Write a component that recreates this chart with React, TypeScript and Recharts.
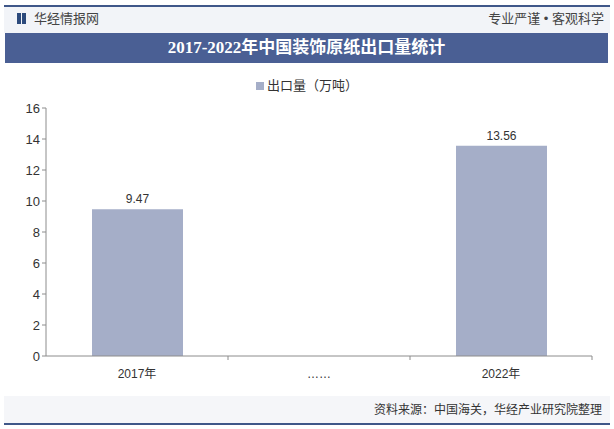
import { BarChart, Bar, XAxis, YAxis, LabelList } from 'recharts';

// chart data
const categories = ['2017年', '……', '2022年'];
const exportVolume: (number | null)[] = [9.47, null, 13.56];
const yTicks = [0, 2, 4, 6, 8, 10, 12, 14, 16];

const seriesName = '出口量（万吨）';
const title = '2017-2022年中国装饰原纸出口量统计';

const colors = {
  line: '#3f5789',
  band: '#4a5f94',
  header: '#f2f4f8',
  bar: '#a5aec8',
  axis: '#8c8c8c',
  text: '#333333',
};

const chartData = categories.map((name, i) => ({ name, value: exportVolume[i] }));

const W = 614;
const H = 429;
const margin = { top: 108, right: 22, bottom: 43, left: 16 };
const yAxisWidth = 30;

// category ticks sit on band edges, like the original
const CategoryTick = (props: any) => {
  const { x, y, payload } = props;
  const band = (W - margin.left - margin.right - yAxisWidth) / categories.length;
  return (
    <g>
      <line x1={x + band / 2} y1={y - 8} x2={x + band / 2} y2={y - 4} stroke={colors.axis} />
      <text x={x} y={y + 14} textAnchor="middle" fill={colors.text} fontSize={12}>
        {payload.value}
      </text>
    </g>
  );
};

export default function App() {
  return (
    <div
      style={{
        position: 'absolute',
        left: 0,
        top: 0,
        width: W,
        height: H,
        background: '#fff',
        overflow: 'hidden',
        fontFamily: '"Liberation Sans", "Noto Sans CJK SC", sans-serif',
      }}
    >
      {/* header strip */}
      <div style={{ position: 'absolute', left: 4, top: 5, width: 606, height: 2, background: colors.line }} />
      <div style={{ position: 'absolute', left: 4, top: 7, width: 606, height: 26, background: colors.header }} />
      <div style={{ position: 'absolute', left: 17, top: 13, width: 4, height: 11, background: '#2c4a7c' }} />
      <div style={{ position: 'absolute', left: 22, top: 13, width: 4, height: 11, background: '#2c4a7c' }} />
      <div style={{ position: 'absolute', left: 34, top: 10, fontSize: 13, color: '#444', lineHeight: '18px' }}>
        华经情报网
      </div>
      <div style={{ position: 'absolute', right: 10, top: 10, fontSize: 13, color: '#444', lineHeight: '18px' }}>
        专业严谨 • 客观科学
      </div>
      <div
        style={{
          position: 'absolute',
          left: 5,
          top: 33,
          width: 603,
          height: 30,
          background: colors.band,
          color: '#fff',
          fontSize: 17,
          fontWeight: 'bold',
          textAlign: 'center',
          lineHeight: '30px',
          fontFamily: '"Liberation Serif", "Noto Sans CJK SC", serif',
        }}
      >
        {title}
      </div>

      {/* legend */}
      <div
        style={{
          position: 'absolute',
          left: 0,
          width: W,
          top: 77,
          textAlign: 'center',
          fontSize: 13,
          color: colors.text,
          lineHeight: '18px',
        }}
      >
        <span style={{ display: 'inline-block', width: 8, height: 8, background: colors.bar, marginRight: 3 }} />
        {seriesName}
      </div>

      <div style={{ position: 'absolute', left: 0, top: 0 }}>
        <BarChart width={W} height={H} data={chartData} margin={margin}>
          <XAxis
            dataKey="name"
            tickLine={false}
            axisLine={{ stroke: colors.axis }}
            tick={<CategoryTick />}
            height={30}
            interval={0}
          />
          <YAxis
            domain={[0, 16]}
            ticks={yTicks}
            width={yAxisWidth}
            axisLine={{ stroke: colors.axis }}
            tickLine={{ stroke: colors.axis }}
            tickSize={4}
            tick={{ fill: colors.text, fontSize: 13 }}
          />
          <Bar dataKey="value" fill={colors.bar} barSize={91} isAnimationActive={false}>
            <LabelList dataKey="value" position="top" fill={colors.text} fontSize={12} offset={6} />
          </Bar>
        </BarChart>
      </div>

      {/* footer */}
      <div style={{ position: 'absolute', left: 4, top: 396, width: 606, height: 27, background: colors.header, opacity: 0.8 }} />
      <div style={{ position: 'absolute', right: 12, top: 401, fontSize: 12, color: colors.text, lineHeight: '18px' }}>
        资料来源：中国海关，华经产业研究院整理
      </div>
      <div style={{ position: 'absolute', left: 4, top: 423, width: 606, height: 2, background: colors.line }} />
    </div>
  );
}
